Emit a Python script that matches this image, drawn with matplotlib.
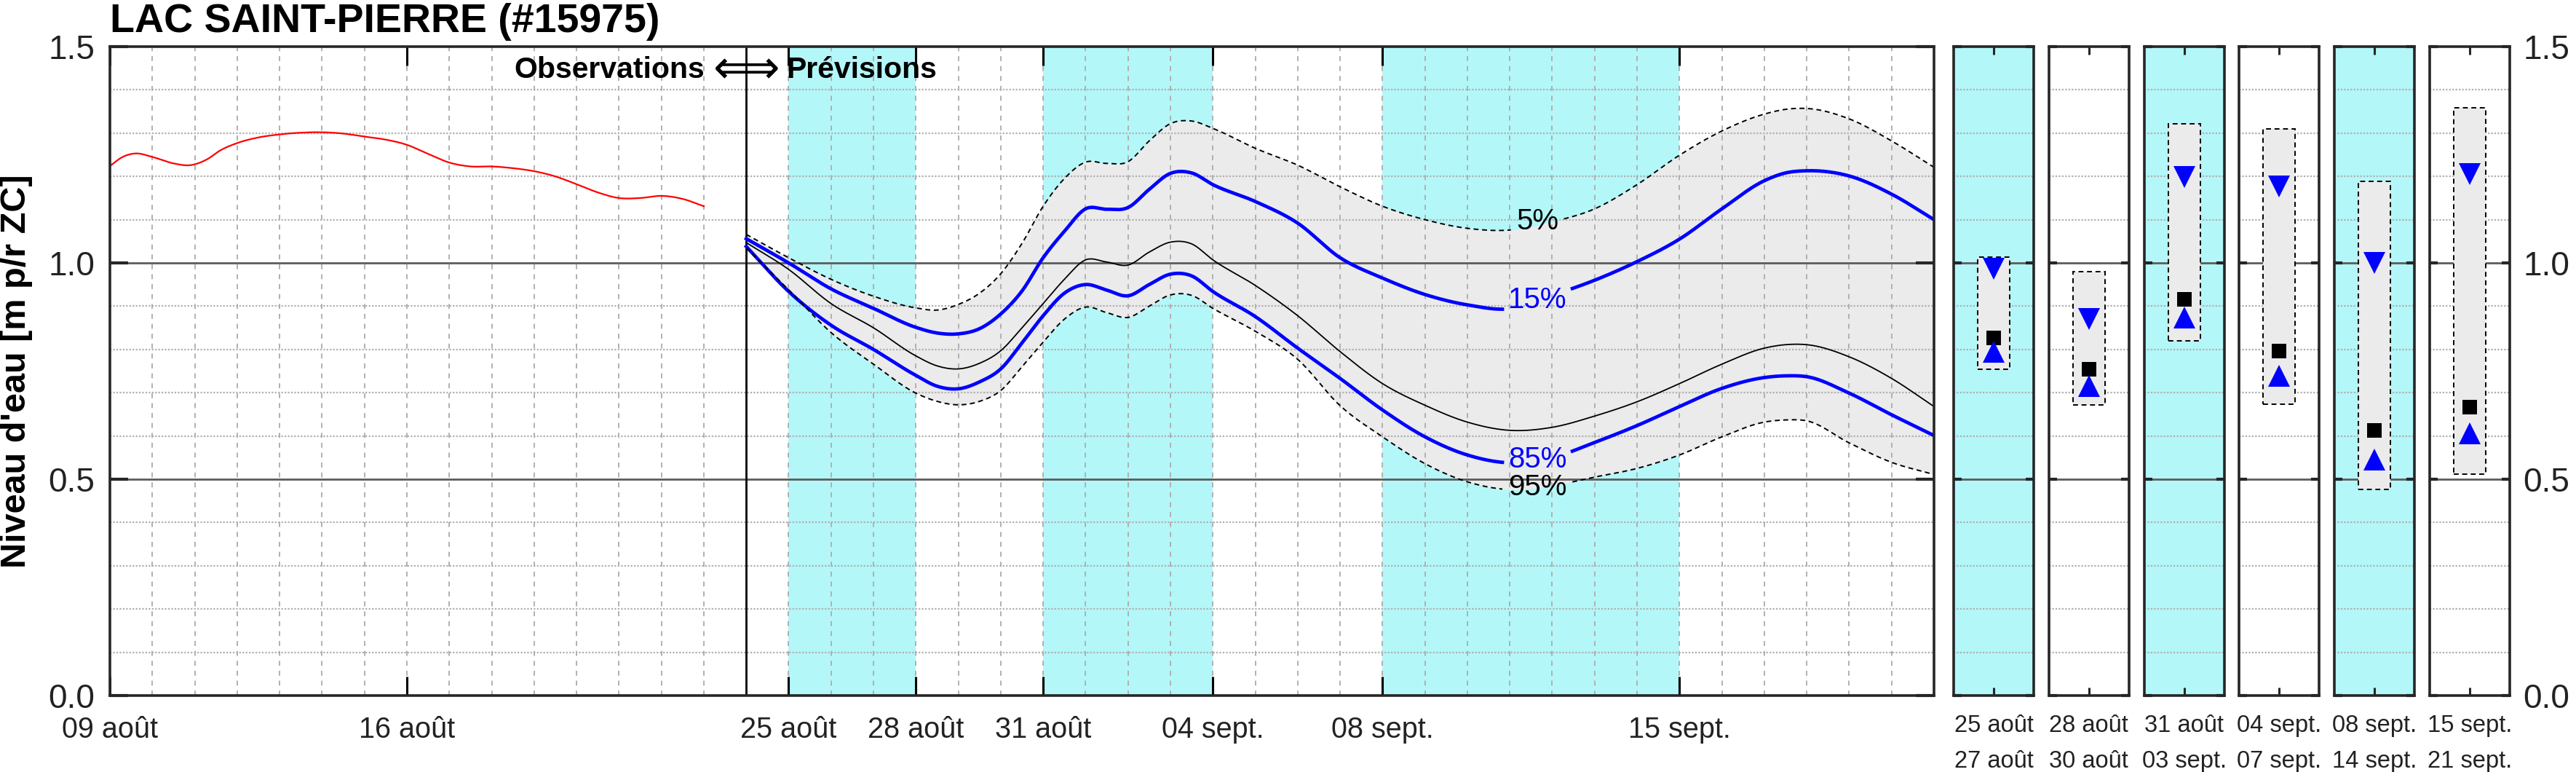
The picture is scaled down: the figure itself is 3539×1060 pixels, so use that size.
import numpy as np
import matplotlib.pyplot as plt
from matplotlib.patches import Rectangle

plt.rcParams['font.family'] = ['Liberation Sans', 'DejaVu Sans']

W, H = 3539, 1060
CYAN = '#b3f7f9'
BAND = '#ebebeb'
BLUE = '#0000ff'
SPINE = '#262626'

# observations (days since 09 août)
obs_days = [0, 0.3, 0.6, 1.0, 1.5, 1.9, 2.3, 2.6, 3.0, 3.5, 4.0, 4.5, 5.0, 5.5, 6.0,
            6.5, 7.0, 7.5, 8.0, 8.5, 9.0, 9.5, 10.0, 10.5, 11.0, 11.5, 12.0, 12.5,
            13.0, 13.5, 14.0]
obs_level = [1.224, 1.245, 1.253, 1.245, 1.230, 1.226, 1.240, 1.260, 1.277, 1.290,
             1.297, 1.301, 1.302, 1.299, 1.292, 1.285, 1.273, 1.252, 1.232, 1.223,
             1.223, 1.219, 1.212, 1.200, 1.182, 1.163, 1.150, 1.150, 1.155, 1.148,
             1.131]

# forecast percentiles
fc_days = [15, 16, 17, 18, 19, 19.5, 20, 20.5, 21, 21.5, 22, 22.5, 23, 23.5, 24, 24.5,
           25, 25.5, 26, 27, 28, 29, 30, 31, 32, 33, 34, 35, 36, 37, 38, 39, 39.5, 40,
           41, 42, 43]
p05 = [1.066, 1.012, 0.962, 0.923, 0.896, 0.891, 0.904, 0.930, 0.975, 1.045, 1.131,
       1.195, 1.233, 1.230, 1.234, 1.282, 1.322, 1.328, 1.311, 1.265, 1.226, 1.176,
       1.131, 1.100, 1.080, 1.076, 1.095, 1.125, 1.181, 1.249, 1.305, 1.344, 1.355,
       1.357, 1.333, 1.282, 1.221]
p15 = [1.056, 1.000, 0.940, 0.895, 0.851, 0.838, 0.836, 0.848, 0.882, 0.935, 1.012,
       1.073, 1.125, 1.124, 1.128, 1.170, 1.207, 1.208, 1.181, 1.142, 1.092, 1.012,
       0.965, 0.927, 0.903, 0.894, 0.925, 0.960, 1.003, 1.055, 1.125, 1.190, 1.208,
       1.213, 1.201, 1.159, 1.100]
p50 = [1.047, 0.985, 0.906, 0.850, 0.785, 0.762, 0.755, 0.768, 0.797, 0.850, 0.906,
       0.962, 1.007, 1.002, 0.995, 1.025, 1.048, 1.044, 1.007, 0.948, 0.878, 0.795,
       0.721, 0.671, 0.632, 0.613, 0.620, 0.646, 0.679, 0.721, 0.766, 0.803, 0.811,
       0.811, 0.783, 0.733, 0.668]
p85 = [1.038, 0.934, 0.856, 0.800, 0.740, 0.715, 0.709, 0.725, 0.755, 0.815, 0.878,
       0.930, 0.950, 0.937, 0.924, 0.950, 0.974, 0.970, 0.934, 0.876, 0.803, 0.733,
       0.660, 0.598, 0.556, 0.538, 0.550, 0.585, 0.624, 0.668, 0.710, 0.735, 0.739,
       0.737, 0.699, 0.649, 0.601]
p95 = [1.035, 0.938, 0.839, 0.766, 0.699, 0.680, 0.672, 0.680, 0.705, 0.760, 0.817,
       0.870, 0.898, 0.885, 0.874, 0.900, 0.926, 0.925, 0.895, 0.842, 0.777, 0.670,
       0.598, 0.536, 0.494, 0.476, 0.485, 0.505, 0.525, 0.556, 0.598, 0.632, 0.637,
       0.635, 0.584, 0.539, 0.511]

tick_days = [0, 7, 16, 19, 22, 26, 30, 37]
tick_labels = ['09 août', '16 août', '25 août', '28 août', '31 août', '04 sept.',
               '08 sept.', '15 sept.']
cyan_spans = [(16, 19), (22, 26), (30, 37)]

# weekly summary panels
week_labels = ['25 août\n27 août', '28 août\n30 août', '31 août\n03 sept.',
               '04 sept.\n07 sept.', '08 sept.\n14 sept.', '15 sept.\n21 sept.']
week_cyan = [True, False, True, False, True, False]
week_p05 = [1.014, 0.979, 1.322, 1.309, 1.188, 1.358]
week_p15 = [0.986, 0.871, 1.199, 1.177, 1.000, 1.206]
week_p50 = [0.826, 0.754, 0.915, 0.796, 0.613, 0.667]
week_p85 = [0.795, 0.716, 0.873, 0.739, 0.546, 0.606]
week_p95 = [0.755, 0.672, 0.820, 0.674, 0.476, 0.511]

label_day = 33.65
minor_y = [0.1, 0.2, 0.3, 0.4, 0.6, 0.7, 0.8, 0.9, 1.1, 1.2, 1.3, 1.4]


def smooth(x, y, xs):
    # cubic hermite through the read points, only for drawing
    x = np.asarray(x, float)
    y = np.asarray(y, float)
    m = np.gradient(y, x)
    i = np.clip(np.searchsorted(x, xs) - 1, 0, len(x) - 2)
    h = x[i + 1] - x[i]
    t = (xs - x[i]) / h
    return ((2 * t**3 - 3 * t**2 + 1) * y[i] + (t**3 - 2 * t**2 + t) * h * m[i]
            + (-2 * t**3 + 3 * t**2) * y[i + 1] + (t**3 - t**2) * h * m[i + 1])


def style_grid(ax, vertical=None):
    for yv in minor_y:
        ax.axhline(yv, color='#b0b0b0', lw=1.6, ls=(0, (1, 1)), zorder=0.6)
    for yv in (0.5, 1.0):
        ax.axhline(yv, color='#5c5c5c', lw=2.0, zorder=0.7)
    if vertical is not None:
        for d in vertical:
            ax.axvline(d, color='#b0b0b0', lw=1.4, ls=(0, (3.5, 3.5)), zorder=0.6)
    for s in ax.spines.values():
        s.set_linewidth(2.6)
        s.set_color(SPINE)
        s.set_zorder(5)


fig = plt.figure(figsize=(W / 100, H / 100), dpi=100)
bottom, top = 1 - 955 / H, 1 - 64 / H

ax = fig.add_axes([151 / W, bottom, (2657 - 151) / W, top - bottom])
ax.set_xlim(0, 43)
ax.set_ylim(0, 1.5)
for a, b in cyan_spans:
    ax.axvspan(a, b, color=CYAN, lw=0, zorder=0.2)

xs = np.linspace(15, 43, 1121)
ax.fill_between(xs, smooth(fc_days, p95, xs), smooth(fc_days, p05, xs),
                color=BAND, lw=0, zorder=0.4)
style_grid(ax, vertical=range(1, 43))
ax.axvline(15, color='k', lw=2.0, zorder=3)

xo = np.linspace(0, 14, 561)
ax.plot(xo, smooth(obs_days, obs_level, xo), color='red', lw=1.6, zorder=3)

# curves with inline labels
curves = [(p05, 'k', 1.4, (0, (3.5, 2.5)), '5%', 0.62),
          (p15, BLUE, 3.4, '-', '15%', 0.82),
          (p50, 'k', 1.3, '-', None, 0),
          (p85, BLUE, 3.4, '-', '85%', 0.82),
          (p95, 'k', 1.4, (0, (3.5, 2.5)), '95%', 0.82)]
for vals, col, lw, ls, lab, half in curves:
    ys = smooth(fc_days, vals, xs)
    if lab:
        ys[np.abs(xs - label_day) < half] = np.nan
    ax.plot(xs, ys, color=col, lw=lw, ls=ls, zorder=3)
    if lab:
        yl = np.interp(label_day, fc_days, vals)
        ax.text(label_day, yl + (0.008 if lab == '5%' else 0.0), lab, color=col,
                fontsize=29, ha='center', va='center', zorder=4)

ax.set_xticks(tick_days, tick_labels)
ax.set_yticks([0, 0.5, 1.0, 1.5], ['0.0', '0.5', '1.0', '1.5'])
ax.tick_params(axis='x', direction='in', length=19, width=2.2, top=True,
               labelsize=28.5, pad=20, color='k', labelcolor='#222222')
ax.tick_params(axis='y', direction='in', length=18, width=3, right=True,
               labelsize=33, pad=15, color=SPINE, labelcolor='#222222')

# weekly panels
for i in range(6):
    left = 2684 + i * 130.8
    axw = fig.add_axes([left / W, bottom, 110 / W, top - bottom])
    axw.set_xlim(0, 1)
    axw.set_ylim(0, 1.5)
    if week_cyan[i]:
        axw.axvspan(0, 1, color=CYAN, lw=0, zorder=0.2)
    style_grid(axw)
    axw.add_patch(Rectangle((0.3, week_p95[i]), 0.4, week_p05[i] - week_p95[i],
                            facecolor=BAND, edgecolor='k', lw=1.4,
                            ls=(0, (3.5, 2.5)), zorder=2))
    axw.plot(0.5, week_p15[i], 'v', color=BLUE, ms=22, mew=0, zorder=4)
    axw.plot(0.5, week_p50[i], 's', color='k', ms=15, mew=0, zorder=4)
    axw.plot(0.5, week_p85[i], '^', color=BLUE, ms=22, mew=0, zorder=4)
    axw.set_xticks([0.5], [week_labels[i]])
    axw.set_yticks([0, 0.5, 1.0, 1.5], ['0.0', '0.5', '1.0', '1.5'])
    axw.tick_params(axis='x', direction='in', length=8, width=2.2, top=True,
                    labelsize=23.5, pad=19, color=SPINE, labelcolor='#222222')
    for t in axw.get_xticklabels():
        t.set_linespacing(1.72)
    axw.tick_params(axis='y', direction='in', length=8, width=3, right=True,
                    labelleft=False, labelright=(i == 5), labelsize=33, pad=13,
                    color=SPINE, labelcolor='#222222')

fig.text(151 / W, 1 - 44 / H, 'LAC SAINT-PIERRE (#15975)', fontsize=40,
         weight='bold', ha='left', va='baseline')
fig.text(23 / W, (top + bottom) / 2, "Niveau d'eau [m p/r ZC]", fontsize=35,
         weight='bold', rotation=90, ha='center', va='center')
fig.text(968 / W, 1 - 107 / H, 'Observations', fontsize=29.5, weight='bold',
         ha='right', va='baseline')
fig.text(1026 / W, 1 - 96 / H, '\u27fa', fontsize=46, family='DejaVu Sans',
         ha='center', va='center')
fig.text(1080 / W, 1 - 107 / H, 'Prévisions', fontsize=29.5, weight='bold',
         ha='left', va='baseline')

fig.savefig('out.png', dpi=100)
